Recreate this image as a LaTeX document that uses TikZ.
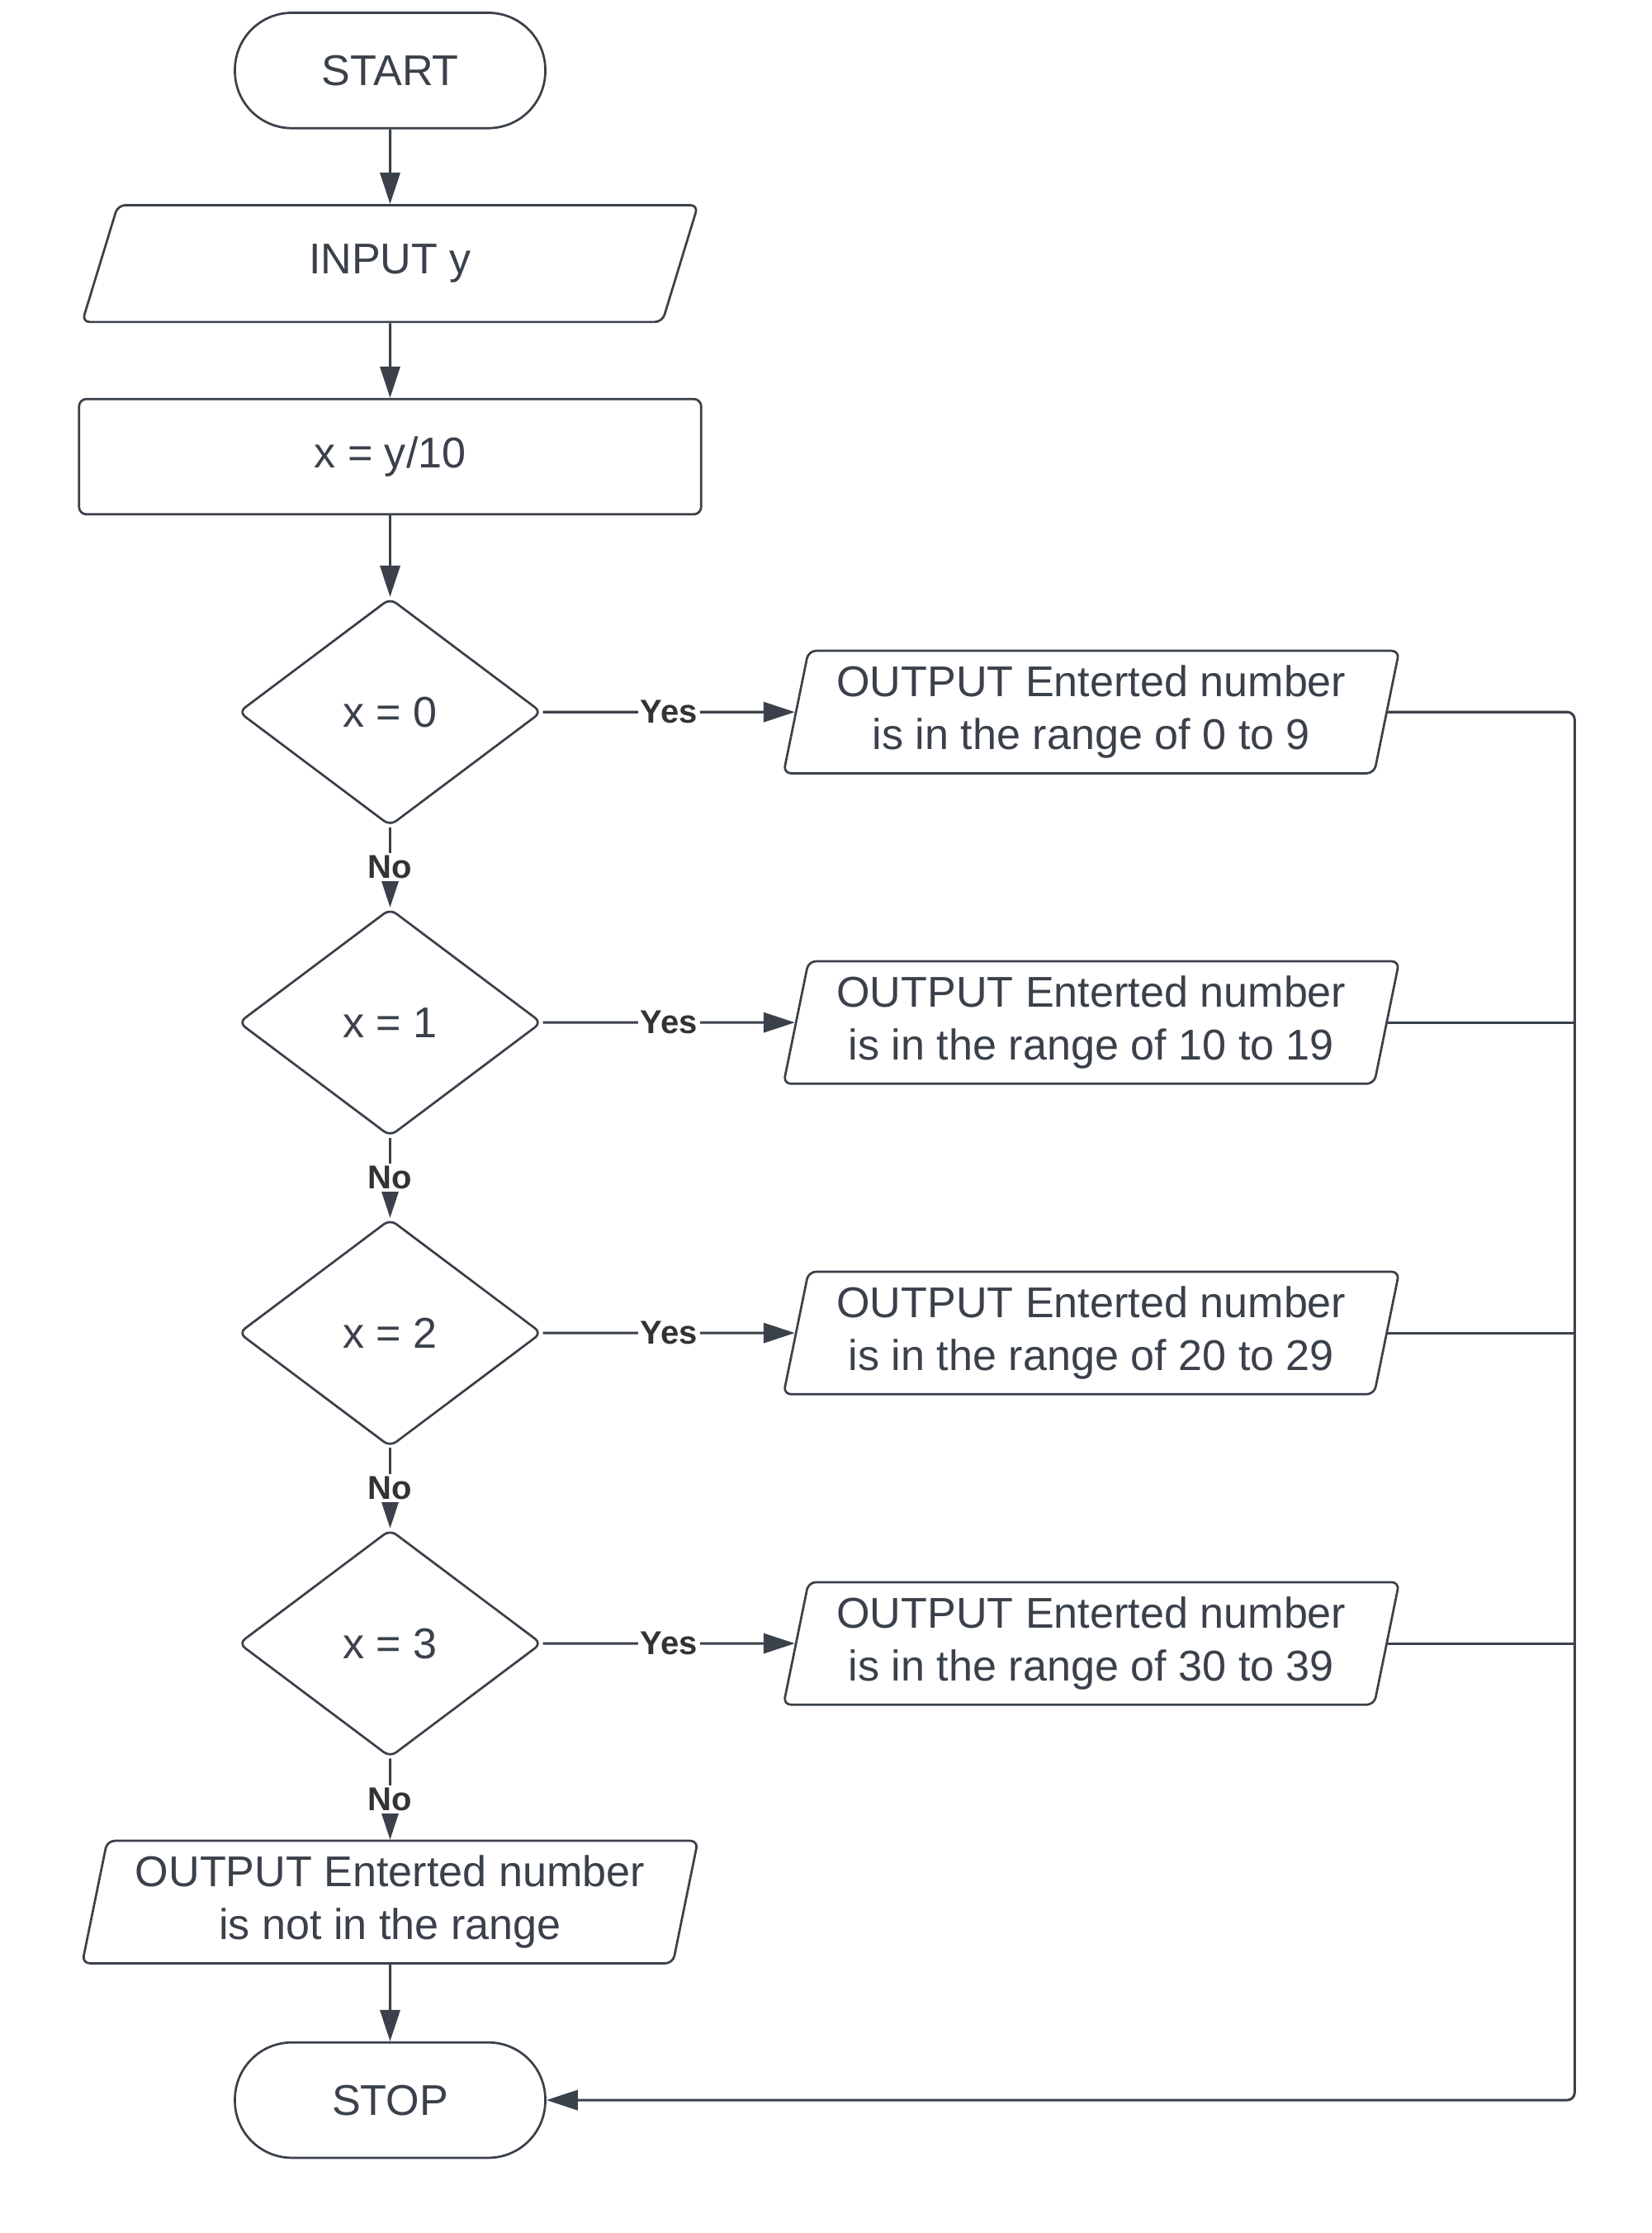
\documentclass[tikz,border=0pt]{standalone}
\usepackage{fontspec}
\setmainfont{Liberation Sans}
\usepackage{tikz}
\usetikzlibrary{arrows.meta,positioning,shapes.geometric,calc}
\definecolor{slate}{HTML}{3A414A}

\begin{document}
\begin{tikzpicture}[
  node distance=1.05cm,
  every node/.style={text=slate, font=\fontsize{17.2}{21}\selectfont},
  term/.style={draw=slate, line width=0.9pt, rectangle, rounded corners=0.8cm, minimum width=4.36cm, minimum height=1.62cm},
  io/.style={draw=slate, line width=0.9pt, trapezium, trapezium left angle=78, trapezium right angle=102, trapezium stretches=true, rounded corners=3pt, minimum width=8.66cm, minimum height=1.72cm, align=center},
  proc/.style={draw=slate, line width=0.9pt, rectangle, rounded corners=3pt, minimum width=8.74cm, minimum height=1.62cm},
  decision/.style={draw=slate, line width=0.9pt, diamond, rounded corners=3pt, minimum width=4.26cm, minimum height=3.2cm, inner sep=0pt},
  flow/.style={draw=slate, line width=1pt, -{Triangle[length=0.44cm,width=0.28cm]}},
  lbl/.style={fill=white, inner sep=1pt, text=black!80, font=\fontsize{13.2}{15}\selectfont\bfseries}
]
\useasboundingbox (0,0) rectangle (23.2,-31.36);
\node[term] (start) at (5.48,-0.99) {START};
\node[io, minimum width=8.68cm, minimum height=1.64cm, below=of start] (input) {INPUT y};
\node[proc, below=of input] (calc) {x = y/10};
\foreach \i/\lo/\hi in {0/0/9,1/10/19,2/20/29,3/30/39}{
  \node[decision] (d\i) at (5.48,-10-4.36*\i) {x = \i};
  \node[io, right=3.54cm of d\i] (o\i) {OUTPUT Enterted number\\is in the range of \lo{} to \hi};
  \draw[flow] (d\i) -- node[lbl]{Yes} (o\i);
}
\node[io, below=1.14cm of d3] (none) {OUTPUT Enterted number\\is not in the range};
\node[term, below=1.08cm of none] (stop) {STOP};
\coordinate (bus) at (22.12,0);
\draw[flow] (start) -- (input);
\draw[flow] (input) -- (calc);
\draw[flow] (calc) -- (d0);
\draw[flow] (d0) -- node[lbl]{No} (d1);
\draw[flow] (d1) -- node[lbl]{No} (d2);
\draw[flow] (d2) -- node[lbl]{No} (d3);
\draw[flow] (d3) -- node[lbl]{No} (none);
\draw[flow] (none) -- (stop);
\draw[flow, rounded corners=3pt] (o0.east) -- (o0.east -| bus) -- (stop.east -| bus) -- (stop.east);
\foreach \i in {1,2,3}
  \draw[draw=slate, line width=1pt] (o\i.east) -- (o\i.east -| bus);
\end{tikzpicture}
\end{document}
